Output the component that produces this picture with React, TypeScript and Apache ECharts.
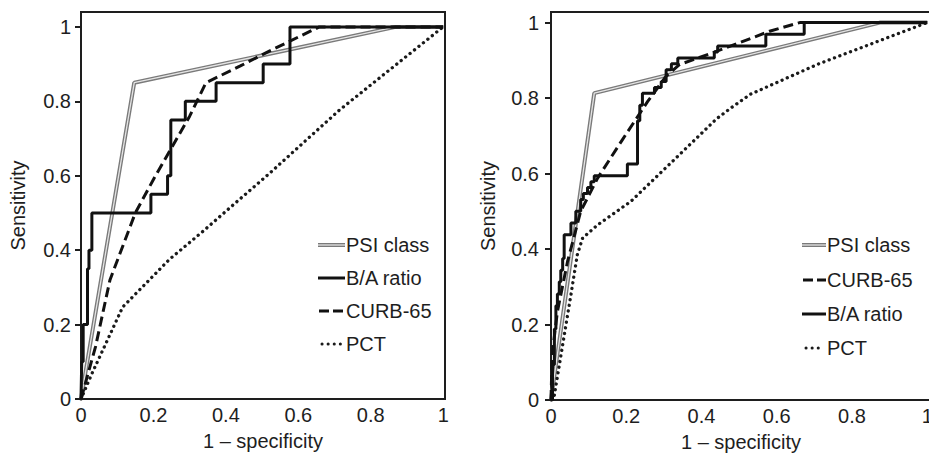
import React, { useEffect, useRef } from "react";
import * as echarts from "echarts";

// ---- Data (1 - specificity, sensitivity) ----
const leftPsi: number[][] = [[0, 0], [0.147, 0.85], [0.869, 1], [1, 1]];
const leftBA: number[][] = [
  [0, 0], [0.002, 0.1], [0.006, 0.1], [0.006, 0.2], [0.018, 0.2], [0.018, 0.35], [0.022, 0.35],
  [0.022, 0.4], [0.03, 0.4], [0.03, 0.5], [0.193, 0.5], [0.193, 0.55], [0.239, 0.55], [0.239, 0.6],
  [0.248, 0.6], [0.248, 0.75], [0.288, 0.75], [0.288, 0.8], [0.373, 0.8], [0.373, 0.85],
  [0.503, 0.85], [0.503, 0.9], [0.577, 0.9], [0.577, 1], [1, 1],
];
const leftCurb: number[][] = [
  [0, 0], [0.04, 0.14], [0.08, 0.32], [0.15, 0.5], [0.2, 0.59], [0.25, 0.675], [0.3, 0.76],
  [0.345, 0.85], [0.44, 0.895], [0.52, 0.935], [0.658, 1], [1, 1],
];
const leftPct: number[][] = [
  [0, 0], [0.03, 0.068], [0.06, 0.131], [0.115, 0.247], [0.244, 0.375], [0.336, 0.45],
  [0.43, 0.53], [0.52, 0.606], [0.713, 0.776], [1, 1],
];

const rightPsi: number[][] = [[0, 0], [0.115, 0.813], [0.874, 1], [1, 1]];
const rightBA: number[][] = [
  [0, 0], [0.004, 0], [0.004, 0.094], [0.009, 0.094], [0.009, 0.188], [0.013, 0.188], [0.013, 0.25],
  [0.017, 0.25], [0.017, 0.281], [0.022, 0.281], [0.022, 0.313], [0.026, 0.313], [0.026, 0.344],
  [0.031, 0.344], [0.031, 0.375], [0.035, 0.375], [0.035, 0.438], [0.053, 0.438], [0.053, 0.469],
  [0.066, 0.469], [0.066, 0.5], [0.079, 0.5], [0.079, 0.531], [0.086, 0.531], [0.086, 0.547],
  [0.097, 0.547], [0.097, 0.563], [0.106, 0.563], [0.106, 0.578], [0.115, 0.578], [0.115, 0.594],
  [0.203, 0.594], [0.203, 0.625], [0.23, 0.625], [0.23, 0.74], [0.236, 0.74], [0.236, 0.781],
  [0.243, 0.781], [0.243, 0.813], [0.275, 0.813], [0.275, 0.828], [0.293, 0.828], [0.293, 0.844],
  [0.306, 0.844], [0.306, 0.875], [0.32, 0.875], [0.32, 0.891], [0.337, 0.891], [0.337, 0.906],
  [0.434, 0.906], [0.434, 0.922], [0.443, 0.922], [0.443, 0.938], [0.571, 0.938], [0.571, 0.969],
  [0.673, 0.969], [0.673, 1], [1, 1],
];
const rightCurb: number[][] = [
  [0, 0], [0.003, 0.12], [0.017, 0.234], [0.044, 0.367], [0.079, 0.5], [0.124, 0.588], [0.19, 0.69],
  [0.257, 0.791], [0.306, 0.858], [0.342, 0.889], [0.43, 0.92], [0.581, 0.977], [0.661, 1], [1, 1],
];
const rightPct: number[][] = [
  [0, 0], [0.009, 0.013], [0.031, 0.146], [0.053, 0.279], [0.07, 0.385], [0.084, 0.429],
  [0.124, 0.464], [0.212, 0.526], [0.332, 0.641], [0.44, 0.745], [0.48, 0.775], [0.53, 0.81],
  [0.71, 0.89], [1, 1],
];

const tickValues = [0, 0.2, 0.4, 0.6, 0.8, 1];
const leftLegend = ["PSI class", "B/A ratio", "CURB-65", "PCT"];
const rightLegend = ["PSI class", "CURB-65", "B/A ratio", "PCT"];

const FONT = "'Liberation Sans', Arial, Helvetica, sans-serif";
const INK = "#1e1e1e";

const STYLES: Record<string, any> = {
  "PSI class": { color: "#7a7a7a", width: 4 },
  "B/A ratio": { color: "#111", width: 3 },
  "CURB-65": { color: "#111", width: 3, type: [10, 5] },
  PCT: { color: "#1a1a1a", width: 3.3, type: [0.1, 5.6], cap: "round" },
};

const fmt = (v: number) => {
  const r = Math.round(v * 5) / 5;
  return Math.abs(v - r) < 1e-6 ? String(Number(r.toFixed(1))) : "";
};

function xAxisFor(gridIndex: number, max: number) {
  return {
    type: "value",
    gridIndex,
    min: 0,
    max,
    interval: 0.2,
    name: "1 \u2013 specificity",
    nameLocation: "middle",
    nameGap: 32,
    nameTextStyle: { fontSize: 20, color: INK, fontFamily: FONT },
    axisLine: { show: true, lineStyle: { color: INK, width: 2 } },
    axisTick: { show: false },
    splitLine: { show: false },
    axisLabel: { customValues: tickValues, formatter: fmt, fontSize: 20, color: INK, fontFamily: FONT, margin: 6 },
  };
}

function yAxisFor(gridIndex: number, max: number, margin: number) {
  return {
    type: "value",
    gridIndex,
    min: 0,
    max,
    interval: 0.2,
    name: "Sensitivity",
    nameLocation: "middle",
    nameGap: 53,
    nameTextStyle: { fontSize: 20, color: INK, fontFamily: FONT },
    axisLine: { show: true, lineStyle: { color: INK, width: 2 } },
    axisTick: { show: true, customValues: tickValues, length: 6, lineStyle: { color: INK, width: 2 } },
    splitLine: { show: false },
    axisLabel: { customValues: tickValues, formatter: fmt, fontSize: 20, color: INK, fontFamily: FONT, margin },
  };
}

function seriesFor(idx: number, psi: number[][], ba: number[][], curb: number[][], pct: number[][]) {
  const base = { type: "line", xAxisIndex: idx, yAxisIndex: idx, symbol: "none", showSymbol: false, silent: true };
  return [
    { ...base, name: "PSI class", data: psi, lineStyle: STYLES["PSI class"], itemStyle: { color: "#7a7a7a" }, z: 2 },
    { ...base, name: "psi-inner-" + idx, data: psi, lineStyle: { color: "#e4e4e4", width: 1.3 }, z: 3 },
    { ...base, name: "PCT", data: pct, lineStyle: STYLES.PCT, itemStyle: { color: "#1a1a1a" }, z: 4 },
    { ...base, name: "CURB-65", data: curb, lineStyle: STYLES["CURB-65"], itemStyle: { color: "#111" }, z: 5 },
    { ...base, name: "B/A ratio", data: ba, lineStyle: STYLES["B/A ratio"], itemStyle: { color: "#111" }, z: 6 },
  ];
}

function legendGraphic(x0: number, x1: number, centers: number[], names: string[]) {
  const els: any[] = [];
  names.forEach((n, i) => {
    const y = centers[i];
    const s = STYLES[n];
    const shape = { x1: x0, y1: y, x2: x1, y2: y };
    if (n === "PSI class") {
      els.push({ type: "line", shape, style: { stroke: s.color, lineWidth: 4 } });
      els.push({ type: "line", shape, style: { stroke: "#e4e4e4", lineWidth: 1.3 } });
    } else if (n === "CURB-65") {
      els.push({ type: "line", shape: { ...shape, x1: x0 + 1 }, style: { stroke: s.color, lineWidth: 3, lineDash: [10, 4] } });
    } else if (n === "PCT") {
      els.push({ type: "line", shape: { ...shape, x1: x0 + 4, x2: x1 - 3 }, style: { stroke: s.color, lineWidth: 3, lineDash: [0.1, 6], lineCap: "round" } });
    } else {
      els.push({ type: "line", shape, style: { stroke: s.color, lineWidth: 3 } });
    }
    els.push({
      type: "text",
      x: x1 + 1,
      y,
      style: { text: n, fontSize: 20, fontFamily: FONT, fill: INK, align: "left", verticalAlign: "middle" },
    });
  });
  return els;
}

export default function App() {
  const ref = useRef<HTMLDivElement>(null);
  useEffect(() => {
    if (!ref.current) return;
    const chart = echarts.init(ref.current, undefined, { renderer: "svg" });
    chart.setOption({
      animation: false,
      backgroundColor: "#ffffff",
      textStyle: { fontFamily: FONT },
      grid: [
        { left: 81, top: 12, width: 364, height: 387, show: true, borderColor: INK, borderWidth: 2, containLabel: false, outerBoundsMode: "none" },
        { left: 551, top: 12, width: 380, height: 388, show: true, borderColor: INK, borderWidth: 2, containLabel: false, outerBoundsMode: "none" },
      ],
      xAxis: [xAxisFor(0, 1.005), xAxisFor(1, 1.01)],
      yAxis: [yAxisFor(0, 1.04, 10), yAxisFor(1, 1.028, 12)],
      graphic: [
        ...legendGraphic(318, 345, [245, 278, 311, 344], leftLegend),
        ...legendGraphic(802, 826, [245, 280, 314, 348], rightLegend),
      ],
      series: [...seriesFor(0, leftPsi, leftBA, leftCurb, leftPct), ...seriesFor(1, rightPsi, rightBA, rightCurb, rightPct)],
    });
    return () => chart.dispose();
  }, []);
  return <div ref={ref} style={{ position: "fixed", left: 0, top: 0, width: 929, height: 455 }} />;
}
